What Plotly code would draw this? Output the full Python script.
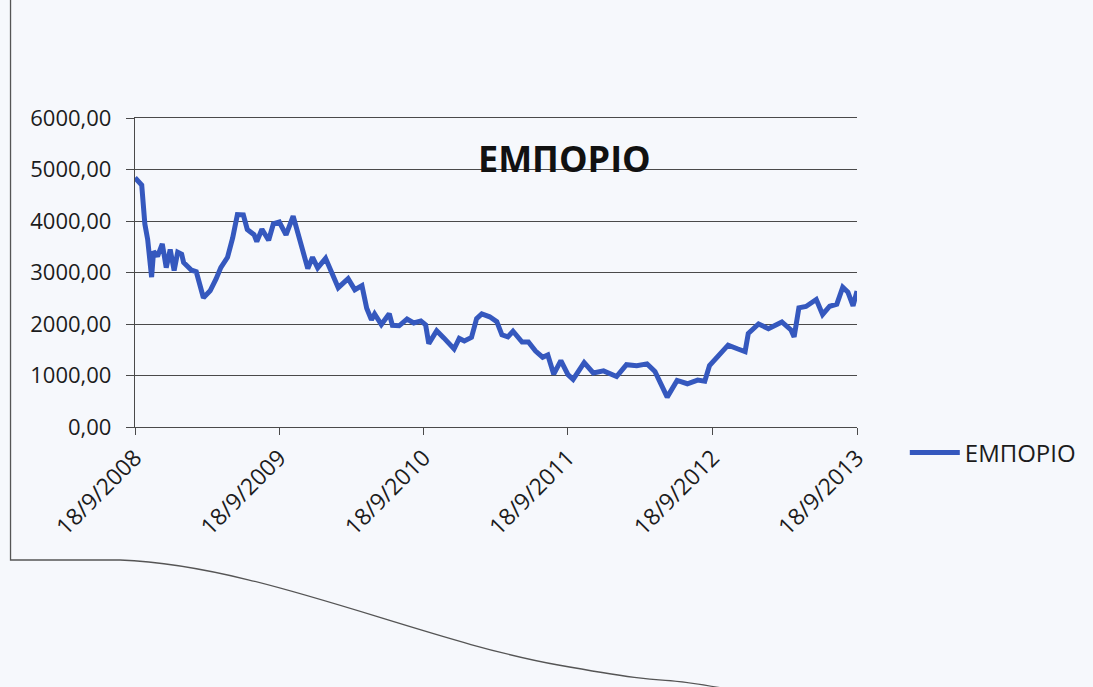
import plotly.graph_objects as go

# ΕΜΠΟΡΙΟ sector index, Sep 2008 - Sep 2013
dates = [
    "2008-09-18", "2008-10-05", "2008-10-13", "2008-10-20", "2008-10-30", "2008-11-04",
    "2008-11-14", "2008-11-26", "2008-12-06", "2008-12-16", "2008-12-26", "2009-01-04",
    "2009-01-14", "2009-01-19", "2009-02-08", "2009-02-20", "2009-03-10", "2009-03-27",
    "2009-04-11", "2009-04-23", "2009-05-10", "2009-05-23", "2009-06-04", "2009-06-19",
    "2009-06-29", "2009-07-16", "2009-07-23", "2009-08-05", "2009-08-22", "2009-09-03",
    "2009-09-18", "2009-10-05", "2009-10-23", "2009-11-07", "2009-11-29", "2009-12-11",
    "2009-12-24", "2010-01-13", "2010-02-02", "2010-02-14", "2010-03-11", "2010-03-28",
    "2010-04-15", "2010-04-27", "2010-05-09", "2010-05-17", "2010-06-03", "2010-06-23",
    "2010-07-01", "2010-07-18", "2010-08-07", "2010-08-24", "2010-09-11", "2010-09-23",
    "2010-10-01", "2010-10-21", "2010-11-08", "2010-12-04", "2010-12-17", "2010-12-30",
    "2011-01-17", "2011-01-30", "2011-02-12", "2011-03-04", "2011-03-22", "2011-04-04",
    "2011-04-19", "2011-05-02", "2011-05-25", "2011-06-10", "2011-06-28", "2011-07-16",
    "2011-07-29", "2011-08-13", "2011-08-31", "2011-09-18", "2011-10-01", "2011-10-29",
    "2011-11-21", "2011-12-17", "2012-01-19", "2012-02-13", "2012-03-10", "2012-04-05",
    "2012-04-25", "2012-05-13", "2012-05-26", "2012-06-20", "2012-07-16", "2012-08-11",
    "2012-08-29", "2012-09-10", "2012-10-06", "2012-10-27", "2012-11-21", "2012-12-09",
    "2012-12-17", "2013-01-12", "2013-02-06", "2013-03-12", "2013-04-04", "2013-04-12",
    "2013-04-24", "2013-05-12", "2013-06-07", "2013-06-23", "2013-07-11", "2013-07-29",
    "2013-08-13", "2013-08-26", "2013-09-08", "2013-09-18",
]
values = [
    4840, 4700, 3940, 3645, 2910, 3410,
    3315, 3555, 3095, 3445, 3040, 3395,
    3355, 3195, 3045, 3015, 2510, 2645,
    2875, 3095, 3295, 3670, 4125, 4120,
    3835, 3735, 3600, 3840, 3625, 3945,
    3980, 3730, 4095, 3645, 3075, 3295,
    3090, 3275, 2890, 2705, 2880, 2665,
    2745, 2305, 2080, 2195, 1990, 2200,
    1975, 1965, 2095, 2020, 2060, 1985,
    1620, 1870, 1730, 1515, 1720, 1670,
    1740, 2105, 2195, 2140, 2045, 1790,
    1750, 1860, 1650, 1650, 1475, 1355,
    1400, 1025, 1290, 1015, 925, 1250,
    1050, 1090, 980, 1210, 1190, 1225,
    1080, 795, 580, 905, 840, 910,
    890, 1195, 1415, 1590, 1515, 1465,
    1815, 2000, 1910, 2040, 1885, 1750,
    2315, 2340, 2475, 2185, 2345, 2385,
    2715, 2620, 2350, 2640,
]

series_name = "ΕΜΠΟΡΙΟ"
tick_dates = ["2008-09-18", "2009-09-18", "2010-09-18", "2011-09-18", "2012-09-18", "2013-09-18"]
tick_labels = ["18/9/2008", "18/9/2009", "18/9/2010", "18/9/2011", "18/9/2012", "18/9/2013"]

W, H = 1093, 687
L, R, T, B = 135, 233, 118, 260
plot_w = W - L - R
plot_h = H - T - B


def px_to_paper(px, py):
    return (px - L) / plot_w, (H - B - py) / plot_h


bg = "#f6f8fc"
axis_col = "#4a4a4a"
text_col = "#1c1c1c"
font_family = "Open Sans, Noto Sans, DejaVu Sans, sans-serif"

fig = go.Figure()
fig.add_trace(go.Scatter(
    x=dates, y=values, mode="lines", name=series_name,
    line=dict(color="#3558be", width=5),
))

# chart-area frame (left and bottom edges)
frame_pts = [(10, 0), (10, 560), (120, 560)]
fx0, fy0 = px_to_paper(10, 0)
path = "M {:.4f},{:.4f}".format(fx0, fy0)
for px, py in frame_pts[1:]:
    a, b = px_to_paper(px, py)
    path += " L {:.4f},{:.4f}".format(a, b)
c1 = px_to_paper(260, 565)
c2 = px_to_paper(420, 640)
c3 = px_to_paper(560, 665)
c4 = px_to_paper(640, 672)
c5 = px_to_paper(735, 690)
path += " C {:.4f},{:.4f} {:.4f},{:.4f} {:.4f},{:.4f}".format(*c1, *c2, *c3)
path += " S {:.4f},{:.4f} {:.4f},{:.4f}".format(*c4, *c5)

fig.add_shape(type="path", path=path, xref="paper", yref="paper",
              line=dict(color="#555555", width=1.3), layer="below")

tx, ty = px_to_paper(566, 158)
fig.add_annotation(
    text="<b>ΕΜΠΟΡΙΟ</b>", x=tx, y=ty, xref="paper", yref="paper",
    showarrow=False, xanchor="center", yanchor="middle",
    font=dict(family=font_family, size=36, color="#111111"),
)

lx, ly = px_to_paper(908, 453)
fig.update_layout(
    width=W, height=H, autosize=False,
    margin=dict(l=L, r=R, t=T, b=B),
    paper_bgcolor=bg, plot_bgcolor=bg,
    separators=",.",
    font=dict(family=font_family, color=text_col),
    showlegend=True,
    legend=dict(x=lx, y=ly, xanchor="left", yanchor="middle", itemwidth=50,
                font=dict(size=24, color=text_col), bgcolor="rgba(0,0,0,0)"),
    xaxis=dict(
        type="date", range=["2008-09-18", "2013-09-18"],
        tickvals=tick_dates, ticktext=tick_labels, tickangle=-45,
        showgrid=False, showline=True, linecolor=axis_col, linewidth=1.3,
        mirror=True,
        ticks="outside", ticklen=7, tickcolor=axis_col, tickwidth=1.3,
        tickfont=dict(size=23, color=text_col), zeroline=False,
    ),
    yaxis=dict(
        range=[0, 6000], dtick=1000, tick0=0, tickformat=".2f",
        showgrid=True, gridcolor=axis_col, gridwidth=1.3,
        showline=True, linecolor=axis_col, linewidth=1.3,
        ticks="outside", ticklen=8, tickcolor=axis_col, tickwidth=1.3,
        tickfont=dict(size=22, color=text_col), zeroline=False,
        ticklabelstandoff=10,
    ),
)

fig.write_html("out.html")
